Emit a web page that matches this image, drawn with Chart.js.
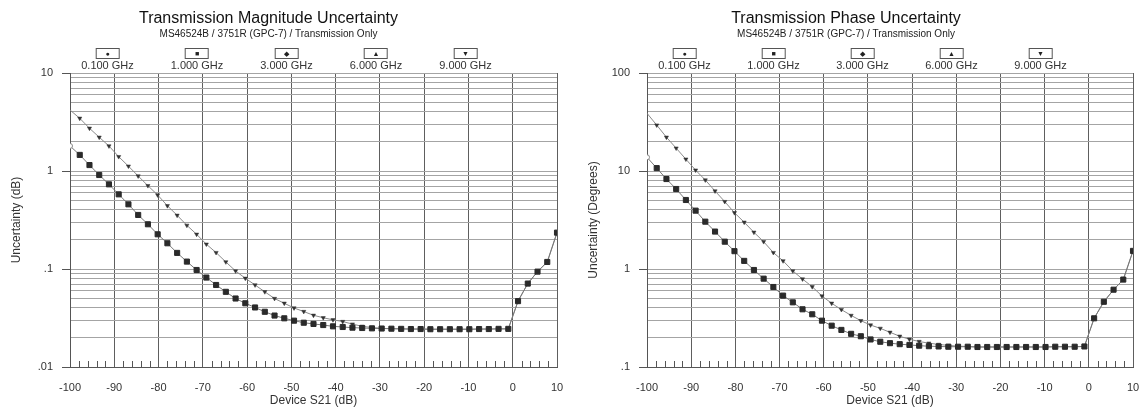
<!DOCTYPE html>
<html>
<head>
<meta charset="utf-8">
<script src="https://cdn.jsdelivr.net/npm/chart.js@4.4.1/dist/chart.umd.min.js"></script>
<style>
body { margin: 0; background: #fff; font-family: "Liberation Sans", Arial, sans-serif; color: #222; }
#page { position: relative; width: 1141px; height: 409px; overflow: hidden; }
.panel { position: absolute; top: 0; height: 409px; }
.title { position: absolute; top: 9px; font-size: 16px; line-height: 18px; transform: translateX(-50%); white-space: nowrap; color: #111; }
.sub { position: absolute; top: 28px; font-size: 10px; line-height: 12px; transform: translateX(-50%); white-space: nowrap; }
.leg { position: absolute; top: 48px; transform: translateX(-50%); text-align: center; }
.leg .mk { width: 22px; height: 9px; border: 1px solid #555; margin: 0 auto; font-size: 7px; line-height: 9px; color: #222; }
.leg .lb { font-size: 11px; line-height: 12px; white-space: nowrap; color: #333; }
</style>
</head>
<body>
<div id="page">
  <div class="panel" style="left:0;width:570px"><canvas id="mag" width="570" height="409"></canvas></div>
  <div class="panel" style="left:570px;width:571px"><canvas id="phase" width="571" height="409"></canvas></div>
</div>
<script>
// Device S21 sweep (dB)
const sweepDb = [-100, -97.8, -95.6, -93.4, -91.2, -89, -86.8, -84.6, -82.4, -80.2,
  -78, -75.8, -73.6, -71.4, -69.2, -67, -64.8, -62.6, -60.4, -58.2,
  -56, -53.8, -51.6, -49.4, -47.2, -45, -42.8, -40.6, -38.4, -36.2,
  -34, -31.8, -29.6, -27.4, -25.2, -23, -20.8, -18.6, -16.4, -14.2,
  -12, -9.8, -7.6, -5.4, -3.2, -1, 1.2, 3.4, 5.6, 7.8, 10];

// magnitude uncertainty (dB)
const magLower = [1.80, 1.46, 1.15, 0.91, 0.731, 0.578, 0.457, 0.356, 0.286, 0.226,
  0.183, 0.146, 0.119, 0.0977, 0.0818, 0.0687, 0.0585, 0.0500, 0.0447, 0.0405,
  0.0366, 0.0335, 0.0314, 0.0297, 0.0283, 0.0275, 0.0268, 0.0260, 0.0256, 0.0252,
  0.0250, 0.0248, 0.0247, 0.0246, 0.0245, 0.0244, 0.0244, 0.0243, 0.0243, 0.0243,
  0.0243, 0.0243, 0.0244, 0.0244, 0.0245, 0.0245, 0.047, 0.071, 0.094, 0.118, 0.235];
const magUpper = [4.19, 3.45, 2.73, 2.21, 1.80, 1.40, 1.12, 0.889, 0.708, 0.569,
  0.442, 0.353, 0.279, 0.226, 0.179, 0.147, 0.118, 0.0955, 0.0804, 0.0687,
  0.0585, 0.0500, 0.0447, 0.0400, 0.0368, 0.0337, 0.0318, 0.0303, 0.0291, 0.0274,
  0.0260, 0.0253, 0.0248, 0.0246, 0.0245, 0.0244, 0.0244, 0.0243, 0.0243, 0.0243,
  0.0243, 0.0243, 0.0244, 0.0244, 0.0245, 0.0245, 0.047, 0.071, 0.094, 0.118, 0.235];

// phase uncertainty (degrees)
const phaseLower = [13.8, 10.7, 8.28, 6.55, 5.06, 3.94, 3.04, 2.41, 1.90, 1.52,
  1.21, 0.977, 0.797, 0.655, 0.535, 0.457, 0.388, 0.345, 0.297, 0.264,
  0.239, 0.218, 0.206, 0.191, 0.181, 0.175, 0.171, 0.168, 0.165, 0.163,
  0.162, 0.161, 0.161, 0.161, 0.160, 0.160, 0.160, 0.160, 0.160, 0.160,
  0.160, 0.160, 0.161, 0.161, 0.161, 0.162, 0.314, 0.463, 0.615, 0.78, 1.53];
const phaseUpper = [38.8, 29.4, 22.1, 17.1, 13.2, 10.2, 8.09, 6.25, 4.87, 3.75,
  3.00, 2.37, 1.90, 1.47, 1.21, 0.955, 0.79, 0.659, 0.530, 0.447,
  0.385, 0.336, 0.297, 0.268, 0.248, 0.226, 0.206, 0.192, 0.182, 0.175,
  0.170, 0.166, 0.163, 0.162, 0.160, 0.160, 0.160, 0.160, 0.160, 0.160,
  0.160, 0.160, 0.161, 0.161, 0.161, 0.162, 0.314, 0.463, 0.615, 0.78, 1.53];

const freqLabels = ['0.100 GHz', '1.000 GHz', '3.000 GHz', '6.000 GHz', '9.000 GHz'];
const freqMarks = ['\u25CF', '\u25A0', '\u25C6', '\u25B2', '\u25BC'];

const xTicks = [-100, -90, -80, -70, -60, -50, -40, -30, -20, -10, 0, 10];
const xTickLabels = ['-100', '-90', '-80', '-70', '-60', '-50', '-40', '-30', '-20', '-10', '0', '10'];
const magTicks = [0.01, 0.1, 1, 10];
const magTickLabels = ['.01', '.1', '1', '10'];
const phaseTicks = [0.1, 1, 10, 100];
const phaseTickLabels = ['.1', '1', '10', '100'];

const FONT = '"Liberation Sans", Arial, sans-serif';

// short 2 dB ticks along the bottom edge
const minorTicks = {
  id: 'minorTicks',
  beforeDatasetsDraw(chart) {
    const {ctx, chartArea, scales} = chart;
    ctx.save();
    ctx.strokeStyle = '#555';
    ctx.lineWidth = 1;
    for (let v = -98; v < 10; v += 2) {
      if (v % 10 === 0) continue;
      const x = Math.round(scales.x.getPixelForValue(v)) + 0.5;
      ctx.beginPath();
      ctx.moveTo(x, chartArea.bottom);
      ctx.lineTo(x, chartArea.bottom - 6);
      ctx.stroke();
    }
    ctx.restore();
  }
};

function pts(values) {
  return values.map(function (v, i) { return {x: sweepDb[i], y: v}; });
}

function addHeader(title, sub, titleX, plotLeft, step) {
  const page = document.getElementById('page');
  let el = document.createElement('div');
  el.className = 'title'; el.style.left = titleX + 'px'; el.textContent = title;
  page.appendChild(el);
  el = document.createElement('div');
  el.className = 'sub'; el.style.left = titleX + 'px'; el.textContent = sub;
  page.appendChild(el);
  freqLabels.forEach(function (lab, k) {
    const d = document.createElement('div');
    d.className = 'leg';
    d.style.left = (plotLeft + 37.5 + step * k) + 'px';
    d.innerHTML = '<div class="mk">' + freqMarks[k] + '</div><div class="lb">' + lab + '</div>';
    page.appendChild(d);
  });
}

function makeChart(id, lower, upper, yTicks, yLabels, yTitle, axisW, padRight, titlePad) {
  const yGrid = [];
  for (let d = 0; d < yTicks.length - 1; d++) {
    for (let m = 1; m <= 9; m++) yGrid.push(yTicks[d] * m);
  }
  yGrid.push(yTicks[yTicks.length - 1]);
  const isMajor = function (v) {
    return yTicks.findIndex(function (t) { return Math.abs(t - v) < t * 1e-6; });
  };

  new Chart(document.getElementById(id), {
    type: 'line',
    data: {
      datasets: [{
        label: freqLabels[1],
        data: pts(lower),
        borderColor: '#777',
        borderWidth: 1,
        pointStyle: function (c) { return c.dataIndex === 0 ? 'circle' : 'rect'; },
        pointRadius: function (c) { return c.dataIndex === 0 ? 2.5 : 3.6; },
        pointBackgroundColor: function (c) { return c.dataIndex === 0 ? '#fff' : '#2a2a2a'; },
        pointBorderColor: function (c) { return c.dataIndex === 0 ? '#888' : '#2a2a2a'; },
        pointBorderWidth: 1
      }, {
        label: freqLabels[4],
        data: pts(upper),
        borderColor: '#8a8a8a',
        borderWidth: 1,
        pointStyle: 'triangle',
        rotation: 180,
        pointRadius: function (c) { return c.dataIndex === 0 ? 0 : 2.4; },
        pointBackgroundColor: '#333',
        pointBorderColor: '#333',
        pointBorderWidth: 0.5
      }]
    },
    options: {
      responsive: false,
      animation: false,
      layout: { padding: { left: 0, right: padRight, top: 73, bottom: 0 } },
      plugins: {
        legend: { display: false },
        title: { display: false },
        tooltip: { enabled: false }
      },
      scales: {
        x: {
          type: 'linear',
          min: -100,
          max: 10,
          afterBuildTicks: function (s) { s.ticks = xTicks.map(function (v) { return {value: v}; }); },
          afterFit: function (s) { s.height = 42; s.paddingLeft = 0; s.paddingRight = 0; },
          grid: { color: '#5e5e5e', lineWidth: 1, drawTicks: false },
          border: { color: '#555' },
          ticks: {
            autoSkip: false,
            maxRotation: 0,
            padding: 14,
            color: '#333',
            font: { family: FONT, size: 11 },
            callback: function (v, i) { return xTickLabels[i]; }
          },
          title: {
            display: true,
            text: 'Device S21 (dB)',
            color: '#333',
            font: { family: FONT, size: 12 },
            padding: { top: 0, bottom: 1 }
          }
        },
        y: {
          type: 'logarithmic',
          min: yTicks[0],
          max: yTicks[yTicks.length - 1],
          afterBuildTicks: function (s) { s.ticks = yGrid.map(function (v) { return {value: v}; }); },
          afterFit: function (s) { s.width = axisW; s.paddingTop = 0; s.paddingBottom = 0; },
          grid: {
            color: '#a4a4a4',
            lineWidth: 1,
            tickLength: 8,
            tickColor: function (c) { return isMajor(c.tick.value) >= 0 ? '#555' : 'rgba(0,0,0,0)'; }
          },
          border: { color: '#555' },
          ticks: {
            autoSkip: false,
            padding: 9,
            color: '#333',
            font: { family: FONT, size: 11 },
            callback: function (v) {
              const k = isMajor(v);
              return k >= 0 ? yLabels[k] : '';
            }
          },
          title: {
            display: true,
            text: yTitle,
            color: '#333',
            font: { family: FONT, size: 12 },
            padding: { top: titlePad, bottom: 0 }
          }
        }
      }
    },
    plugins: [minorTicks]
  });
}

makeChart('mag', magLower, magUpper, magTicks, magTickLabels, 'Uncertainty (dB)', 70, 13, 9);
makeChart('phase', phaseLower, phaseUpper, phaseTicks, phaseTickLabels, 'Uncertainty (Degrees)', 77, 8, 16);

addHeader('Transmission Magnitude Uncertainty', 'MS46524B / 3751R (GPC-7) / Transmission Only', 268.5, 70, 89.5);
addHeader('Transmission Phase Uncertainty', 'MS46524B / 3751R (GPC-7) / Transmission Only', 846, 647, 89);
</script>
</body>
</html>
